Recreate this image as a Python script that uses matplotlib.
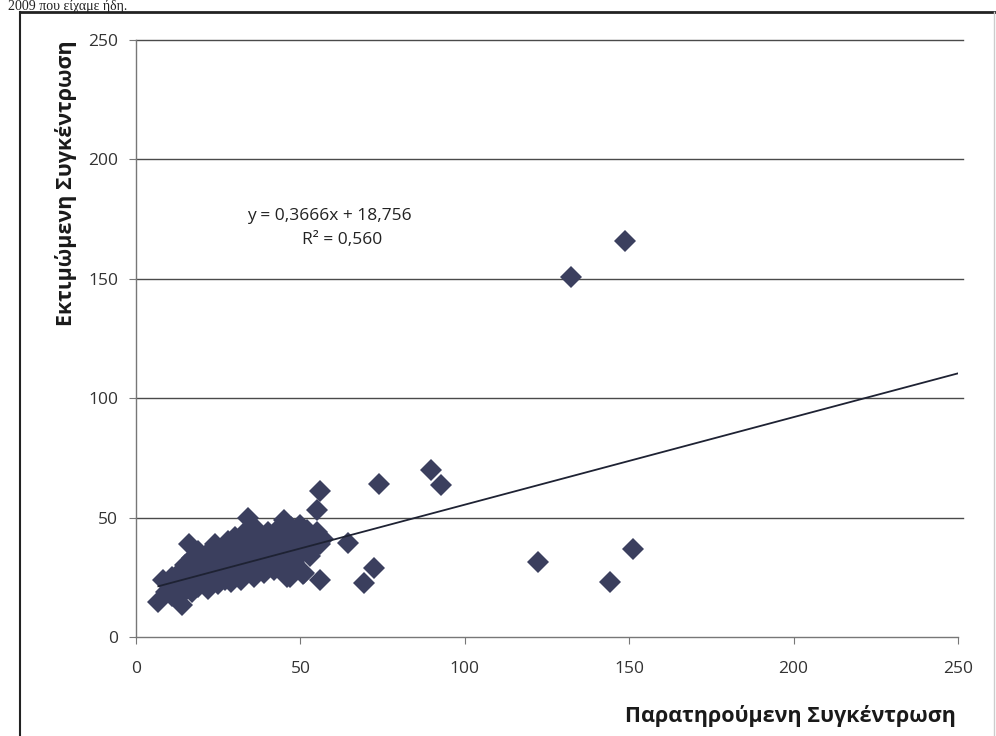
import matplotlib
matplotlib.use("Agg")
import matplotlib.pyplot as plt
from matplotlib.lines import Line2D
import numpy as np

plt.rcParams['font.family'] = ['Open Sans', 'DejaVu Sans']

observed = [6.8, 8.3, 13.9, 9, 10, 11, 11, 12, 13, 14, 14, 15, 15, 16, 16, 17, 17, 18, 18, 19,
            19, 20, 20, 21, 21, 22, 22, 23, 23, 24, 24, 25, 25, 26, 26, 27, 27, 28, 28, 29,
            29, 30, 30, 31, 31, 32, 32, 33, 33, 34, 34, 35, 35, 35, 36, 36, 37, 37, 38, 38,
            39, 39, 40, 40, 41, 41, 42, 42, 43, 43, 44, 44, 45, 45, 46, 46, 47, 47, 48, 48,
            49, 49, 50, 50, 51, 51, 52, 52, 53, 53, 54, 54, 55, 55, 56, 56, 57, 46.8, 50.9, 56,
            64.5, 72.3, 69.3, 73.9, 89.8, 92.9, 122.3, 132.3, 144.1, 151.2, 148.6]
estimated = [14.8, 23.8, 13.4, 19, 22, 17, 25, 20, 27, 18, 23, 30, 21, 39, 26, 19, 33, 24, 29, 36,
             21, 27, 31, 23, 34, 28, 20, 37, 25, 39, 30, 22, 33, 27, 36, 24, 31, 40, 28, 23,
             34, 42, 30, 26, 37, 33, 24, 44, 29, 50, 36, 27, 40, 32, 46, 25, 35, 29, 42, 31,
             37, 27, 44, 33, 30, 39, 36, 28, 45, 32, 38, 30, 49, 34, 41, 25, 36, 46, 31, 43,
             39, 33, 47, 36, 41, 27, 45, 38, 34, 42, 40, 37, 53, 44, 61, 39, 41, 25, 26.5, 23.8,
             39.2, 28.7, 22.7, 63.9, 70, 63.6, 31.3, 150.6, 23.1, 36.8, 166]

slope = 0.3666
intercept = 18.756
eq_label = "y = 0,3666x + 18,756"
r2_label = "R² = 0,560"
ticks = [0, 50, 100, 150, 200, 250]

fig = plt.figure(figsize=(9.96, 7.36), dpi=100)
ax = fig.add_axes([136/996, 1-637/736, 822/996, 597/736])

for t in ticks[1:]:
    ax.axhline(t, color='#4a4a4a', lw=1.0, zorder=1, xmax=1.006, clip_on=False)

ax.plot(observed, estimated, 'D', color='#3b3f5e', markersize=11, markeredgewidth=0, zorder=3)

xs = np.array([min(observed), 250])
ax.plot(xs, slope*xs + intercept, color='#1e2233', lw=1.3, zorder=4)

ax.set_xlim(0, 250)
ax.set_ylim(0, 250)
ax.set_xticks(ticks)
ax.set_yticks(ticks)
for s in ['top', 'right']:
    ax.spines[s].set_visible(False)
for s in ['left', 'bottom']:
    ax.spines[s].set_color('#777777')
    ax.spines[s].set_linewidth(1.0)
ax.tick_params(axis='x', direction='out', length=5, color='#777777', labelsize=12.5,
               labelcolor='#333333', pad=12)
ax.tick_params(axis='y', direction='out', length=5, color='#777777', labelsize=12.5,
               labelcolor='#333333', pad=8)

ax.text(0.135, 0.698, eq_label, transform=ax.transAxes, fontsize=12.5, color='#222222',
        va='baseline')
ax.text(0.202, 0.658, r2_label, transform=ax.transAxes, fontsize=12.5, color='#222222',
        va='baseline')

fig.text(790/996, 1-716/736, "Παρατηρούμενη Συγκέντρωση", ha='center', va='center',
         fontsize=15.5, fontweight='bold', color='#1a1a1a')
fig.text(66/996, 1-183/736, "Εκτιμώμενη Συγκέντρωση", ha='center', va='center',
         rotation=90, fontsize=15.5, fontweight='bold', color='#1a1a1a')

# chart frame of the scanned page
fig.add_artist(Line2D([20/996, 20/996], [0, 1-12/736], color='#222222', lw=1.5))
fig.add_artist(Line2D([20/996, 1], [1-12/736, 1-12/736], color='#222222', lw=2))
fig.add_artist(Line2D([994/996, 994/996], [0, 1-12/736], color='#cccccc', lw=1))

# line of text from the page above the chart
fig.text(8/996, 1-10/736, "2009 που είχαμε ήδη.", ha='left', va='baseline',
         fontsize=10, family=['Liberation Serif', 'DejaVu Serif'], color='#222222')

fig.savefig("out.png", dpi=100)
